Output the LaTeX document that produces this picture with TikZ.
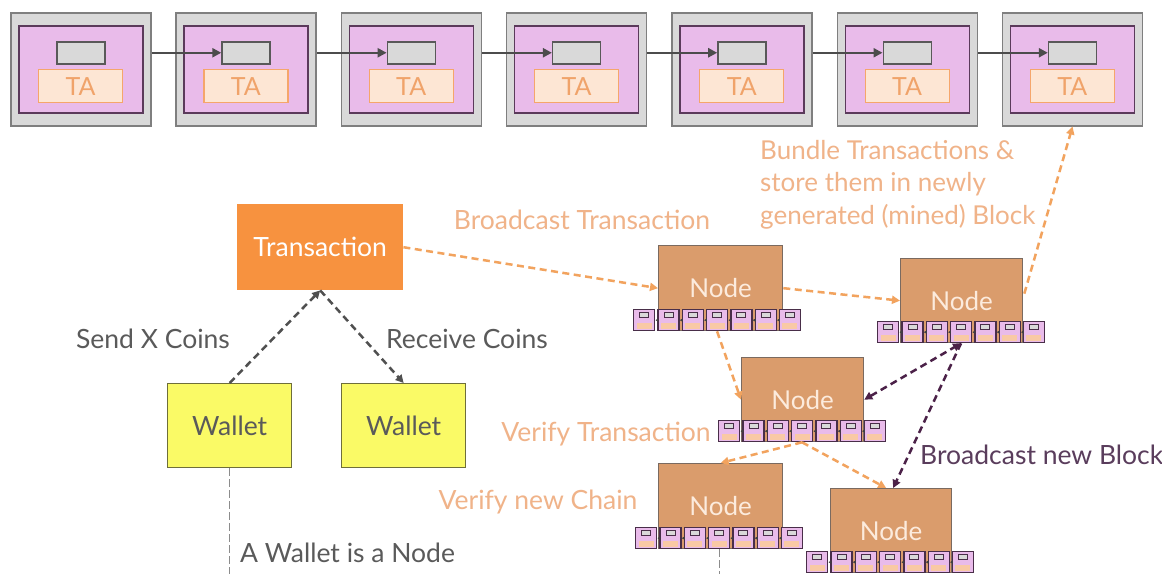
\documentclass[tikz,border=0pt]{standalone}
\usepackage{fontspec}
\setmainfont{Lato}
\usetikzlibrary{arrows.meta,calc}
\definecolor{blkgray}{HTML}{D9D9D9}
\definecolor{blkedge}{HTML}{7F7F7F}
\definecolor{pinkfill}{HTML}{E9BBEA}
\definecolor{pinkedge}{HTML}{5B3A5B}
\definecolor{tafill}{HTML}{FDE6D4}
\definecolor{taedge}{HTML}{F5A66B}
\definecolor{tatext}{HTML}{F0A36A}
\definecolor{trfill}{HTML}{F7923F}
\definecolor{nodefill}{HTML}{DA9C6C}
\definecolor{nodeedge}{HTML}{7A6A60}
\definecolor{nodetext}{HTML}{FCEBDD}
\definecolor{walletfill}{HTML}{FAFA66}
\definecolor{walletedge}{HTML}{6E6E3A}
\definecolor{darktext}{HTML}{5A5A5A}
\definecolor{orangeline}{HTML}{F2A35E}
\definecolor{orangelabel}{HTML}{F0B389}
\definecolor{purpleline}{HTML}{4B2148}
\definecolor{purpletext}{HTML}{5A3D5C}
\definecolor{connline}{HTML}{505050}
\newcommand\minichain[3]{%
  \foreach \k in {1,...,7}{%
    \node[mcblk, anchor=north west] (#1-\k) at ({#2+24.3*(\k-1)},#3) {};
    \node[mcgray] at ($(#1-\k.north)+(0,5.5)$) {};
    \node[mcta] at ($(#1-\k.south)+(0,-5.5)$) {};
  }
  \foreach \k [evaluate=\k as \m using int(\k+1)] in {1,...,6}{%
    \draw[mcarrow] (#1-\m.west) -- (#1-\k.east);
  }
}
\begin{document}
\begin{tikzpicture}[x=1pt,y=-1pt,
  outerblk/.style={draw=blkedge, fill=blkgray, line width=1.5pt, minimum width=140pt, minimum height=113pt, inner sep=0pt},
  innerblk/.style={draw=pinkedge, fill=pinkfill, line width=1.5pt, minimum width=124pt, minimum height=87pt, inner sep=0pt},
  grayblk/.style={draw=black!65, fill=blkgray, line width=1.5pt, minimum width=48pt, minimum height=22pt, inner sep=0pt},
  tablk/.style={draw=taedge, fill=tafill, line width=1.2pt, minimum width=84pt, minimum height=33pt, inner sep=0pt, text=tatext, font=\fontsize{25}{27}\selectfont},
  chainarrow/.style={draw=black!70, line width=2.5pt, -{Triangle[length=9pt,width=9pt]}},
  mcblk/.style={draw=pinkedge!80!black, fill=pinkfill, line width=1.3pt, minimum width=21pt, minimum height=21pt, inner sep=0pt},
  mcgray/.style={draw=pinkedge!80!black, fill=blkgray, line width=0.8pt, minimum width=9pt, minimum height=5pt, inner sep=0pt},
  mcta/.style={fill=tafill!55!taedge, draw=none, minimum width=15pt, minimum height=6pt, inner sep=0pt},
  mcarrow/.style={draw=black!75, line width=1pt, -{Latex[length=3pt,width=3.5pt]}},
  nodebox/.style={draw=nodeedge, fill=nodefill, line width=1.3pt, text=nodetext, inner sep=0pt, font=\fontsize{26}{28}\selectfont},
  walletbox/.style={draw=walletedge, fill=walletfill, line width=1.3pt, text=darktext, minimum width=124pt, minimum height=84pt, inner sep=0pt, font=\fontsize{26.5}{28}\selectfont},
  orangearrow/.style={draw=orangeline, line width=2.5pt, dash pattern=on 7pt off 4.5pt, -{Triangle[length=8pt,width=8pt]}},
  purplearrow/.style={draw=purpleline, line width=2.5pt, dash pattern=on 7pt off 4.5pt, -{Triangle[length=8pt,width=8pt]}},
  grayarrow/.style={draw=connline, line width=2.5pt, dash pattern=on 7pt off 4.5pt, -{Triangle[length=8pt,width=8pt]}},
  thindash/.style={draw=black!45, line width=0.8pt, dash pattern=on 8pt off 3pt},
  lbl/.style={inner sep=0pt, font=\fontsize{26.5}{28}\selectfont}
]
\useasboundingbox (0,0) rectangle (1162,574);
\fill[white] (0,0) rectangle (1162,574);

% top block chain
\foreach \i in {1,...,7}{
  \pgfmathsetmacro\bx{10+165.3*(\i-1)}
  \node[outerblk, anchor=north west] (b\i) at (\bx,12) {};
  \node[innerblk, anchor=north west] (p\i) at (\bx+8,25) {};
  \node[grayblk, anchor=north west] (g\i) at (\bx+46,41) {};
  \node[tablk, anchor=north west] (t\i) at (\bx+28,69) {TA};
}
\foreach \i [evaluate=\i as \j using int(\i+1)] in {1,...,6}{
  \draw[chainarrow] (b\i.east |- g\j.west) -- (g\j.west);
}

% transaction and wallets
\node[draw=none, fill=trfill, minimum width=166pt, minimum height=86pt, inner sep=0pt, text=white, anchor=north west, font=\fontsize{26.5}{28}\selectfont] (tr) at (237,204) {Transaction};
\node[walletbox, anchor=north west] (w1) at (167,383) {Wallet};
\node[walletbox, anchor=north west] (w2) at (341,383) {Wallet};

% network nodes
\node[nodebox, minimum width=124pt, minimum height=85pt, anchor=north west] (nA) at (658,245) {Node};
\minichain{cA}{633}{309}
\node[nodebox, minimum width=122pt, minimum height=84pt, anchor=north west] (nB) at (900,258) {Node};
\minichain{cB}{877}{321}
\node[nodebox, minimum width=122pt, minimum height=84pt, anchor=north west] (nC) at (741,357) {Node};
\minichain{cC}{718}{420}
\node[nodebox, minimum width=124pt, minimum height=85pt, anchor=north west] (nD) at (658,463) {Node};
\minichain{cD}{635}{527}
\node[nodebox, minimum width=121pt, minimum height=84pt, anchor=north west] (nE) at (830,488) {Node};
\minichain{cE}{806}{551}

% connectors
\draw[grayarrow] (w1.north) -- (tr.south);
\draw[grayarrow] (tr.south) -- (w2.north);
\draw[orangearrow] (tr.east) -- (nA.west);
\draw[orangearrow] (nA.east) -- (nB.west);
\draw[orangearrow] ($(nB.east)+(1,-7)$) -- (b7.south);
\draw[orangearrow] (cA-4.south) -- (nC.west);
\draw[purplearrow, {Triangle[length=8pt,width=8pt]}-{Triangle[length=8pt,width=8pt]}] (nC.east) -- (cB-4.south);
\draw[purplearrow] (cB-4.south) -- ($(nE.north)+(2,0)$);
\draw[orangearrow] (cC-4.south) -- (nD.north);
\draw[orangearrow] (cC-4.south) -- ($(nE.north)+(-5,0)$);

\coordinate (w1end) at (w1.south |- 0,574);
\coordinate (dend) at (cD-4.south |- 0,574);
\draw[thindash] (w1.south) -- (w1end);
\draw[thindash] (cD-4.south) -- (dend);

% labels
\node[lbl, text=darktext] (l1) at (153,339) {Send X Coins};
\node[lbl, text=darktext] (l2) at (467,339) {Receive Coins};
\node[lbl, text=orangelabel] (l3) at (582,220) {Broadcast Transaction};
\node[lbl, text=orangelabel, align=left, anchor=north west, font=\fontsize{26}{32.5}\selectfont] (l4) at (760,140) {Bundle Transactions \&\\store them in newly\\generated (mined) Block};
\node[lbl, text=orangelabel] (l5) at (606,434) {Verify Transaction};
\node[lbl, text=orangelabel] (l6) at (538,502) {Verify new Chain};
\node[lbl, text=purpletext, anchor=west] (l7) at (920,455) {Broadcast new Block};
\node[lbl, text=darktext, anchor=west] (l8) at (240,553) {A Wallet is a Node};
\end{tikzpicture}
\end{document}
